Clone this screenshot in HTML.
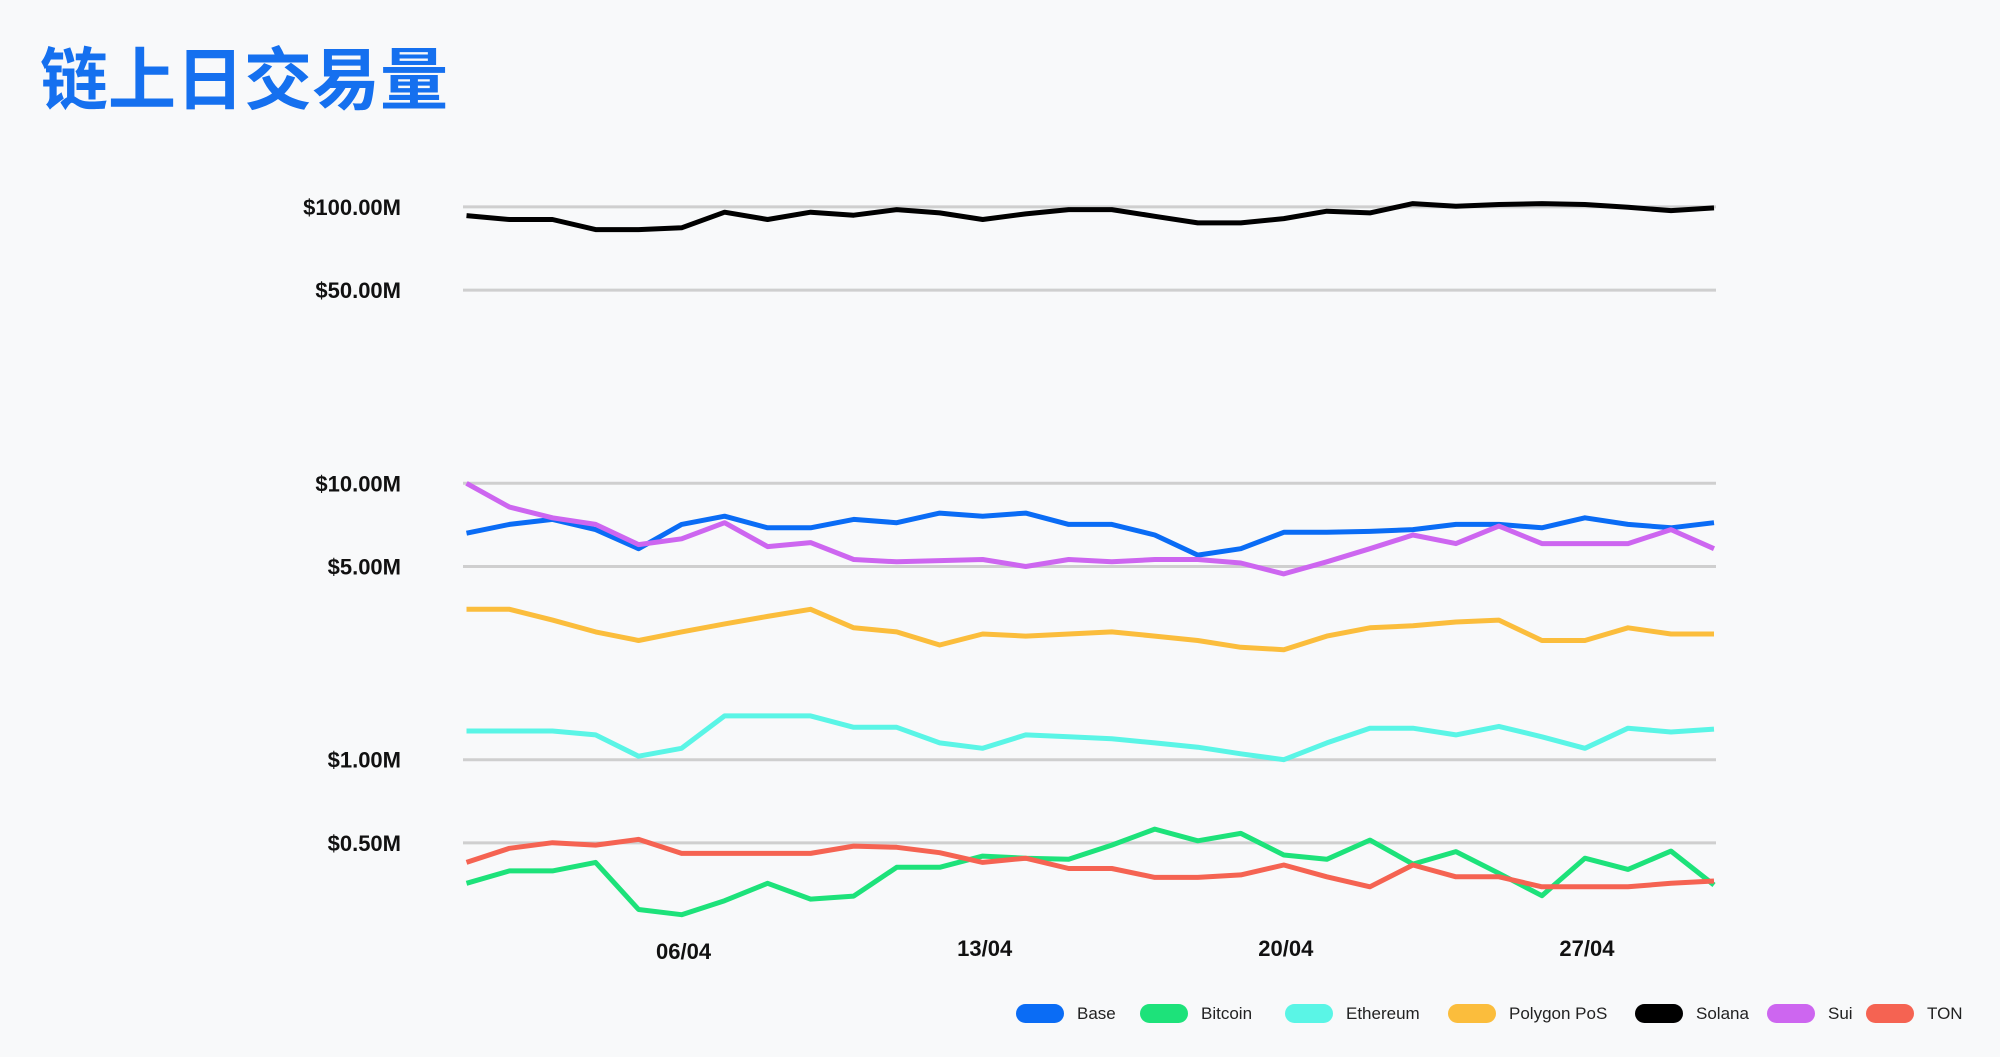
<!DOCTYPE html>
<html><head><meta charset="utf-8"><style>
body{margin:0;background:#f8f9fa;}
svg{display:block;}
</style></head><body>
<svg id="chart" width="2000" height="1057" viewBox="0 0 2000 1057" xmlns="http://www.w3.org/2000/svg">
<rect width="2000" height="1057" fill="#f8f9fa"/>
<text x="40" y="104" font-family="'Liberation Sans','Noto Sans CJK SC',sans-serif" font-weight="700" font-size="68" fill="#1570ef">链上日交易量</text>
<g id="grid"></g>
<g id="yticks"></g>
<g id="xticks"></g>
<g id="series"></g>
<g id="legend"></g>
</svg>
<script>
const days = Array.from({length:30},(_,i)=>String(i+1).padStart(2,'0')+'/04');
const yTickValues = [100,50,10,5,1,0.5];
const yTickLabels = ['$100.00M','$50.00M','$10.00M','$5.00M','$1.00M','$0.50M'];
const xTickLabels = ['06/04','13/04','20/04','27/04'];
const seriesNames = ['Base','Bitcoin','Ethereum','Polygon PoS','Solana','Sui','TON'];
const seriesColors = ['#0a6cf5','#1de27a','#5af5e6','#fbbd3c','#000000','#cd66f0','#f56352'];
const base = [6.6,7.1,7.4,6.8,5.8,7.1,7.6,6.9,6.9,7.4,7.2,7.8,7.6,7.8,7.1,7.1,6.5,5.5,5.8,6.65,6.65,6.7,6.8,7.1,7.1,6.9,7.5,7.1,6.9,7.2];
const bitcoin = [.357,.396,.396,.425,.287,.275,.309,.357,.313,.321,.408,.408,.448,.440,.436,.491,.561,.509,.541,.452,.436,.512,.419,.465,.388,.322,.440,.401,.467,.352];
const ethereum = [1.27,1.27,1.27,1.23,1.03,1.10,1.44,1.44,1.44,1.31,1.31,1.15,1.10,1.23,1.21,1.19,1.15,1.11,1.05,1.00,1.15,1.30,1.30,1.23,1.32,1.21,1.10,1.30,1.26,1.29];
const polygon = [3.5,3.5,3.2,2.9,2.7,2.9,3.1,3.3,3.5,3.0,2.9,2.6,2.85,2.8,2.85,2.9,2.8,2.7,2.55,2.5,2.8,3.0,3.05,3.15,3.2,2.7,2.7,3.0,2.85,2.85];
const solana = [93,90,90,82.8,82.8,84,95.7,90,95.7,93.3,97.8,95.1,90,94.3,97.8,97.8,92.5,87.5,87.5,90.7,96.5,95.1,102.8,100.6,102,102.8,102,99.7,97,99.2];
const sui = [10.0,8.2,7.5,7.1,6.0,6.3,7.2,5.9,6.1,5.3,5.2,5.25,5.3,5.0,5.3,5.2,5.3,5.3,5.15,4.7,5.2,5.8,6.5,6.05,7.0,6.05,6.05,6.05,6.8,5.8];
const ton = [.425,.478,.501,.491,.515,.458,.458,.458,.458,.487,.482,.461,.425,.440,.404,.404,.375,.375,.383,.416,.377,.347,.416,.377,.377,.347,.347,.347,.357,.364];
const seriesData = [base,bitcoin,ethereum,polygon,solana,sui,ton];

const NS='http://www.w3.org/2000/svg';
const X0=466.5, X1=1714, Y10=483.3, DEC=276.4;
const xScale = i => X0 + (X1-X0)*i/(days.length-1);
const yScale = v => Y10 - DEC*Math.log10(v/10);
function mk(tag, parent){const e=document.createElementNS(NS,tag);parent.appendChild(e);return e;}
const grid=document.getElementById('grid'), yt=document.getElementById('yticks'), xt=document.getElementById('xticks'), ser=document.getElementById('series'), leg=document.getElementById('legend');
const FONT="'Liberation Sans',Arial,sans-serif";
yTickValues.forEach((v,k)=>{
  const y=yScale(v);
  const l=mk('line',grid);
  
  
  l.setAttribute('x1',463);l.setAttribute('x2',1716);l.setAttribute('y1',y);l.setAttribute('y2',y);
  l.setAttribute('stroke','#cfcfcf');l.setAttribute('stroke-width',3);
  const t=mk('text',yt);
  
  
  t.setAttribute('x',401);t.setAttribute('y',y+8);t.setAttribute('text-anchor','end');
  t.setAttribute('font-family',FONT);t.setAttribute('font-size',22);t.setAttribute('font-weight','700');t.setAttribute('fill','#111');
  t.textContent=yTickLabels[k];
});
xTickLabels.forEach((lab,k)=>{
  const i=days.indexOf(lab);
  const t=mk('text',xt);
  
  
  t.setAttribute('x',xScale(i)+2);t.setAttribute('y',k===0?959:956);t.setAttribute('text-anchor','middle');
  t.setAttribute('font-family',FONT);t.setAttribute('font-size',22);t.setAttribute('font-weight','700');t.setAttribute('fill','#111');
  t.textContent=lab;
});
seriesData.forEach((d,s)=>{
  const p=mk('polyline',ser);
  
  
  p.setAttribute('points',d.map((v,i)=>xScale(i).toFixed(1)+','+yScale(v).toFixed(1)).join(' '));
  p.setAttribute('fill','none');p.setAttribute('stroke',seriesColors[s]);p.setAttribute('stroke-width',5);p.setAttribute('stroke-linejoin','round');
});
const legX=[1016,1140,1285,1448,1635,1767,1866];
seriesNames.forEach((n,s)=>{
  const g=mk('g',leg);
  
  
  const r=mk('rect',g);
  
  
  r.setAttribute('x',legX[s]);r.setAttribute('y',1004);r.setAttribute('width',48);r.setAttribute('height',19);r.setAttribute('rx',9.5);r.setAttribute('fill',seriesColors[s]);
  const t=mk('text',g);
  
  
  t.setAttribute('x',legX[s]+61);t.setAttribute('y',1019);
  t.setAttribute('font-family',FONT);t.setAttribute('font-size',17);t.setAttribute('fill','#222');
  t.textContent=n;
});
</script>
</body></html>
